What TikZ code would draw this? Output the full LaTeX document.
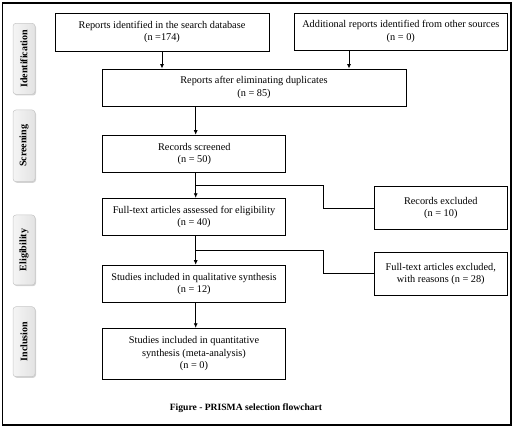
\documentclass[tikz,border=0pt]{standalone}
\usepackage{fontspec}
\setmainfont{Liberation Serif}
\usetikzlibrary{arrows.meta,shadows}
\tikzset{
  box/.style={draw=black,line width=0.9pt,fill=white,align=center,inner sep=0pt,
    font=\fontsize{10.3}{12.3}\selectfont},
  tab/.style={draw=gray!45,line width=0.5pt,rounded corners=3pt,
    left color=gray!8,right color=gray!22,
    drop shadow={shadow xshift=1pt,shadow yshift=-1.2pt,opacity=0.35},
    minimum width=22pt,inner sep=0pt},
  tablabel/.style={rotate=90,font=\fontsize{10}{12}\bfseries\selectfont},
  arr/.style={line width=0.8pt,-{Latex[length=4.5pt,width=4pt]}},
  ln/.style={line width=0.8pt},
}
\begin{document}
\begin{tikzpicture}[x=1pt,y=-1pt]
\useasboundingbox (0,0) rectangle (520,435);
\node[draw=black,line width=1.2pt,minimum width=508.5pt,minimum height=422pt,inner sep=0pt] (frame) at (256.65,214) {};

% side tabs
\node[tab,minimum height=71pt] (t1) at (24,58.8) {};
\node[tablabel] (l1) at (t1.center) {Identification};
\node[tab,minimum height=71.7pt] (t2) at (24,145.8) {};
\node[tablabel] (l2) at (t2.center) {Screening};
\node[tab,minimum height=70pt] (t3) at (24,250) {};
\node[tablabel] (l3) at (t3.center) {Eligibility};
\node[tab,minimum height=70pt] (t4) at (24,341.7) {};
\node[tablabel] (l4) at (t4.center) {Inclusion};

% boxes
\node[box,minimum width=214pt,minimum height=38pt] (b1) at (162,32) {Reports identified in the search database\\(n =174)};
\node[box,minimum width=213pt,minimum height=37pt] (b2) at (400.8,31.5) {Additional reports identified from other sources\\(n = 0)};
\node[box,minimum width=304pt,minimum height=37pt] (b3) at (254,87.5) {Reports after eliminating duplicates\\(n = 85)};
\node[box,minimum width=183pt,minimum height=37pt] (b4) at (194.3,153.7) {Records screened\\(n = 50)};
\node[box,minimum width=183pt,minimum height=37pt] (b5) at (194,216.8) {Full-text articles assessed for eligibility\\(n = 40)};
\node[box,minimum width=183pt,minimum height=37pt] (b6) at (194,283.7) {Studies included in qualitative synthesis\\(n = 12)};
\node[box,minimum width=183pt,minimum height=51pt] (b7) at (194,353.8) {Studies included in quantitative\\synthesis (meta-analysis)\\(n = 0)};
\node[box,minimum width=133pt,minimum height=43pt] (e1) at (440.8,207.7) {Records excluded\\(n = 10)};
\node[box,minimum width=133pt,minimum height=43pt] (e2) at (440.8,273.7) {Full-text articles excluded,\\with reasons (n = 28)};

\node[font=\fontsize{9.6}{11}\bfseries\selectfont] (cap) at (246,408) {Figure - PRISMA selection flowchart};

% connectors
\draw[arr] (b1.south) -- (b1.south |- b3.north);
\draw[arr] (349,0 |- b2.south) -- (349,0 |- b3.north);
\draw[arr] (195.7,0 |- b3.south) -- (195.7,0 |- b4.north);
\draw[arr] (195.7,0 |- b4.south) -- (195.7,0 |- b5.north);
\draw[arr] (195.7,0 |- b5.south) -- (195.7,0 |- b6.north);
\draw[arr] (195.7,0 |- b6.south) -- (195.7,0 |- b7.north);
\coordinate (j1) at (195.7,185);
\coordinate (j2) at (195.7,250);
\draw[ln] (j1) -- (323.3,185) -- (323.3,208.3) -- (e1.west |- 0,208.3);
\draw[ln] (j2) -- (323.3,250) -- (323.3,273.3) -- (e2.west |- 0,273.3);
\end{tikzpicture}
\end{document}
